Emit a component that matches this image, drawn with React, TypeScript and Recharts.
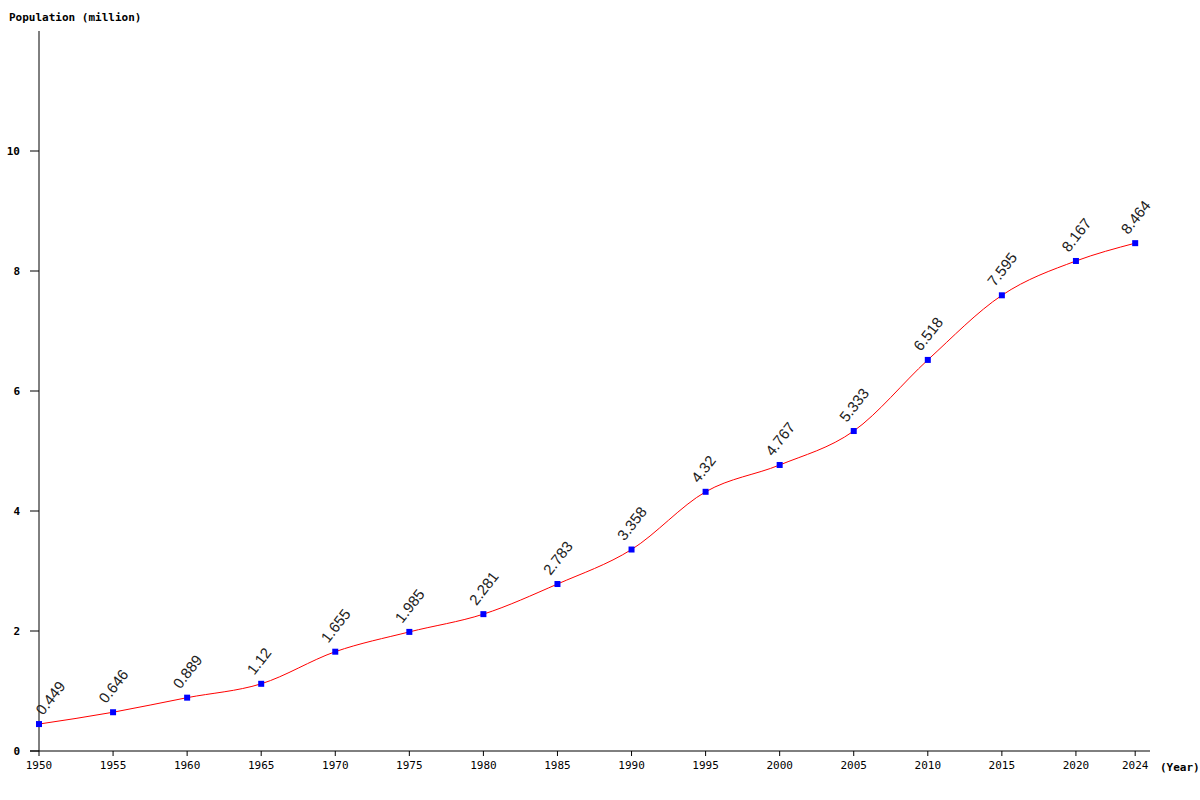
import React from 'react';
import { LineChart, Line, XAxis, YAxis } from 'recharts';

const years = [1950, 1955, 1960, 1965, 1970, 1975, 1980, 1985, 1990, 1995, 2000, 2005, 2010, 2015, 2020, 2024];
const population = [0.449, 0.646, 0.889, 1.12, 1.655, 1.985, 2.281, 2.783, 3.358, 4.32, 4.767, 5.333, 6.518, 7.595, 8.167, 8.464];
const yTicks = [0, 2, 4, 6, 8, 10];

const data = years.map((year, i) => ({ year, value: population[i] }));

const mono = '"DejaVu Sans Mono", monospace';

const SquareDot = (props: any) => {
  const { cx, cy, index } = props;
  if (cx == null || cy == null) return null;
  return <rect key={`dot-${index}`} x={cx - 3} y={cy - 3} width={6} height={6} fill="#0000ff" />;
};

// first label is pushed inside the plot area, like the original
const ValueLabel = (props: any) => {
  const { x, y, value, index } = props;
  const lx = index === 0 ? x + 4 : x - 7;
  const ly = y - 8;
  return (
    <text
      key={`lbl-${index}`}
      x={lx}
      y={ly}
      transform={`rotate(-52, ${lx}, ${ly})`}
      textAnchor="start"
      fontFamily='"Liberation Sans", Arial, sans-serif'
      fontSize={15}
      fill="#222"
    >
      {value}
    </text>
  );
};

export default function App() {
  return (
    <div style={{ position: 'absolute', left: 0, top: 0, width: 1200, height: 800, background: '#fff' }}>
      <LineChart width={1200} height={800} data={data} margin={{ top: 31, right: 50, bottom: 0, left: 0 }}>
        <XAxis
          dataKey="year"
          type="number"
          domain={[1950, 2025]}
          ticks={years}
          interval={0}
          stroke="#000"
          tickSize={5}
          tickMargin={5}
          height={49}
          tick={{ fill: '#000', fontSize: 11, fontFamily: mono }}
        />
        <YAxis
          type="number"
          domain={[0, 12]}
          ticks={yTicks}
          interval={0}
          stroke="#000"
          width={39}
          tickSize={9}
          tickMargin={10}
          tick={{ fill: '#000', fontSize: 11, fontFamily: mono, fontWeight: 'bold' }}
        />
        <Line
          type="monotone"
          dataKey="value"
          stroke="#ff0000"
          strokeWidth={1}
          dot={<SquareDot />}
          activeDot={false}
          label={<ValueLabel />}
          isAnimationActive={false}
        />
        <line x1={30} y1={751} x2={39} y2={751} stroke="#000" />
        <text x={9} y={21} fontFamily={mono} fontSize={11} fontWeight="bold" fill="#000">
          Population (million)
        </text>
        <text x={1160} y={771} fontFamily={mono} fontSize={11} fontWeight="bold" fill="#000">
          (Year)
        </text>
      </LineChart>
    </div>
  );
}
